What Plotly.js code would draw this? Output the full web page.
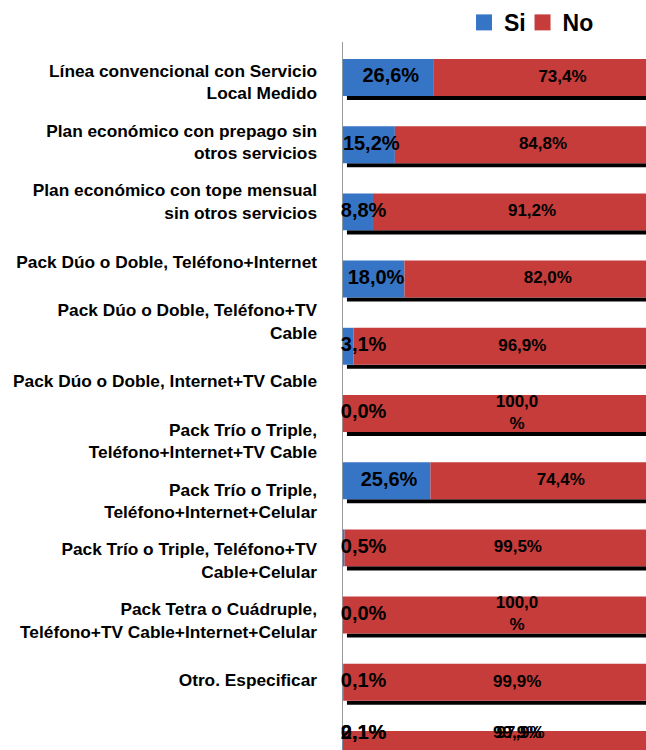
<!DOCTYPE html>
<html>
<head>
<meta charset="utf-8">
<script src="https://cdn.plot.ly/plotly-3.0.1.min.js"></script>
<style>html,body{margin:0;padding:0;background:#fff;overflow:hidden;}#chart{width:646px;height:750px;}</style>
</head>
<body>
<div id="chart"></div>
<script>
const categories = [
  "Línea convencional con Servicio<br>Local Medido",
  "Plan económico con prepago sin<br>otros servicios",
  "Plan económico con tope mensual<br>sin otros servicios",
  "Pack Dúo o Doble, Teléfono+Internet",
  "Pack Dúo o Doble, Teléfono+TV<br>Cable",
  "Pack Dúo o Doble, Internet+TV Cable",
  "Pack Trío o Triple,<br>Teléfono+Internet+TV Cable",
  "Pack Trío o Triple,<br>Teléfono+Internet+Celular",
  "Pack Trío o Triple, Teléfono+TV<br>Cable+Celular",
  "Pack Tetra o Cuádruple,<br>Teléfono+TV Cable+Internet+Celular",
  "Otro. Especificar",
  "No sabe/no responde"
];
const si = [26.6, 15.2, 8.8, 18.0, 3.1, 0.0, 25.6, 0.5, 0.0, 0.1, 0.1, 2.1];
const no = [73.4, 84.8, 91.2, 82.0, 96.9, 100.0, 74.4, 99.5, 100.0, 99.9, 99.9, 97.9];
const seriesNames = ["Si", "No"];

const BLUE = "#3674c6";
const RED = "#c63c3a";
const FONT = "Liberation Sans, Arial, Helvetica, sans-serif";

// bar rows: the last two categories share the (clipped) bottom row as in the original
const rows = categories.map((c, i) => Math.min(i, 10));
const textRows = rows.map(r => Math.min(r, 9.77));
const idx = categories.map((c, i) => i);

function fmt(v) {
  const s = v.toFixed(1).replace(".", ",");
  return v >= 100 ? s + "<br>%" : s + "%";
}

const traces = [
  {
    type: "bar", orientation: "h", x: si, y: rows, base: 0, yaxis: "y2", xaxis: "x",
    width: 0.55, marker: {color: BLUE, line: {width: 0}},
    showlegend: false, hoverinfo: "skip", name: seriesNames[0]
  },
  {
    type: "bar", orientation: "h", x: no, y: rows, base: si, yaxis: "y2", xaxis: "x",
    width: 0.55, marker: {color: RED, line: {width: 0}},
    showlegend: false, hoverinfo: "skip", name: seriesNames[1]
  },
  {
    type: "scatter", mode: "text", yaxis: "y2", xaxis: "x",
    x: si.map(v => v < 10 ? -0.6 : v / 2 + 0.7),
    y: textRows,
    text: si.map(fmt),
    textposition: si.map(v => v < 10 ? "middle right" : "middle center"),
    textfont: {family: FONT, size: 20, color: "#000", weight: "bold"},
    cliponaxis: false, showlegend: false, hoverinfo: "skip"
  },
  {
    type: "scatter", mode: "text", yaxis: "y2", xaxis: "x",
    x: si.map((v, i) => v + no[i] / 2 + 0.9),
    y: textRows,
    text: no.map(fmt),
    textposition: "middle center",
    textfont: {family: FONT, size: 17, color: "#000", weight: "bold"},
    cliponaxis: false, showlegend: false, hoverinfo: "skip"
  },
  {
    type: "scatter", mode: "markers", x: idx.map(() => 0), y: idx, xaxis: "x", yaxis: "y",
    marker: {opacity: 0, size: 1}, showlegend: false, hoverinfo: "skip"
  },
  {
    type: "scatter", mode: "markers", x: [null], y: [null], name: seriesNames[0],
    legendwidth: 13.5,
    marker: {symbol: "square", size: 16, color: BLUE}, showlegend: true, hoverinfo: "skip"
  },
  {
    type: "scatter", mode: "markers", x: [null], y: [null], name: seriesNames[1],
    marker: {symbol: "square", size: 16, color: RED}, showlegend: true, hoverinfo: "skip"
  }
];

const shapes = rows.map(r => ({
  type: "rect", xref: "x", yref: "y2", layer: "below",
  x0: 1.2, x1: 100, y0: r + 0.275, y1: r + 0.335,
  fillcolor: "#000", line: {width: 0}
}));

const layout = {
  width: 646, height: 750,
  margin: {l: 336, r: 0, t: 42, b: 0, pad: 0},
  paper_bgcolor: "#fff", plot_bgcolor: "#fff",
  barmode: "overlay",
  showlegend: true,
  legend: {
    orientation: "h", traceorder: "normal", x: 0.413, y: 1.058, xanchor: "left", yanchor: "top",
    font: {family: FONT, size: 23, color: "#000", weight: "bold"},
    bgcolor: "rgba(0,0,0,0)", borderwidth: 0
  },
  xaxis: {
    range: [-2, 88.6], showticklabels: false, showgrid: false,
    zeroline: true, zerolinecolor: "#9a9a9a", zerolinewidth: 1,
    showline: false, ticks: "", fixedrange: true
  },
  yaxis: {
    range: [11.166, -0.669], tickmode: "array", tickvals: idx, ticktext: categories,
    showgrid: false, zeroline: false, showline: false, ticks: "",
    ticklabelstandoff: 18,
    tickfont: {family: FONT, size: 17.3, color: "#000", weight: "bold"},
    fixedrange: true
  },
  yaxis2: {
    overlaying: "y", range: [10.008, -0.528], visible: false,
    showgrid: false, zeroline: false, fixedrange: true
  },
  shapes: shapes
};

Plotly.newPlot("chart", traces, layout, {displayModeBar: false, staticPlot: true});
</script>
</body>
</html>
